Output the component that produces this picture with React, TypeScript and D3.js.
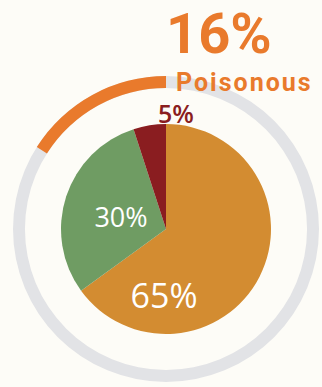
import React from "react";
import * as d3 from "d3";

const categories = ["Other", "Group B", "Group C"];
const values = [65, 30, 5];
const sliceColors = ["#d38c31", "#6f9c63", "#8a1d20"];
const labelColors = ["#ffffff", "#ffffff", "#8a1d20"];
const poisonousShare = 16;
const headline = "16%";
const headlineLabel = "Poisonous";

const W = 322;
const H = 387;
const cx = 166;
const cy = 229;
const pieR = 105;
const ringInner = 141;
const ringOuter = 153;

export default function App() {
  const pie = d3.pie<number>().sort(null).value((d) => d)(values);
  const arc = d3.arc<d3.PieArcDatum<number>>().innerRadius(0).outerRadius(pieR);
  const ringArc = d3.arc().innerRadius(ringInner).outerRadius(ringOuter);
  const ringScale = d3.scaleLinear().domain([0, 100]).range([0, 2 * Math.PI]);
  const fullRing = ringArc({ startAngle: 0, endAngle: 2 * Math.PI } as any) as string;
  const partRing = ringArc({ startAngle: -ringScale(poisonousShare), endAngle: 0 } as any) as string;

  const labelPos = [
    { dx: -2, dy: 79, size: 34, w: 500 },
    { dx: -45, dy: -2, size: 27, w: 500 },
    { dx: 10, dy: -106, size: 25, w: 600 },
  ];

  return (
    <svg width={W} height={H} style={{ position: "absolute", left: 0, top: 0, background: "#fdfcf7" }}>
      <rect width={W} height={H} fill="#fdfcf7" />
      <g transform={`translate(${cx},${cy})`}>
        <path d={fullRing} fill="#e2e3e6" />
        <path d={partRing} fill="#e97a2c" />
        {pie.map((p, i) => (
          <path key={categories[i]} d={arc(p) as string} fill={sliceColors[i]} />
        ))}
        {pie.map((p, i) => (
          <text
            key={"l" + i}
            x={labelPos[i].dx}
            y={labelPos[i].dy}
            textAnchor="middle"
            fontFamily="Open Sans"
            fontWeight={labelPos[i].w}
            fontSize={labelPos[i].size}
            fill={labelColors[i]}
          >
            {`${p.data}%`}
          </text>
        ))}
      </g>
      <text x={166} y={53} fontFamily="Roboto" fontWeight={700} fontSize={56} fill="#e97a2c">
        {headline}
      </text>
      <text x={176} y={90.5} fontFamily="Roboto" fontWeight={700} fontSize={25} fill="#e97a2c" letterSpacing={2}>
        {headlineLabel}
      </text>
    </svg>
  );
}
